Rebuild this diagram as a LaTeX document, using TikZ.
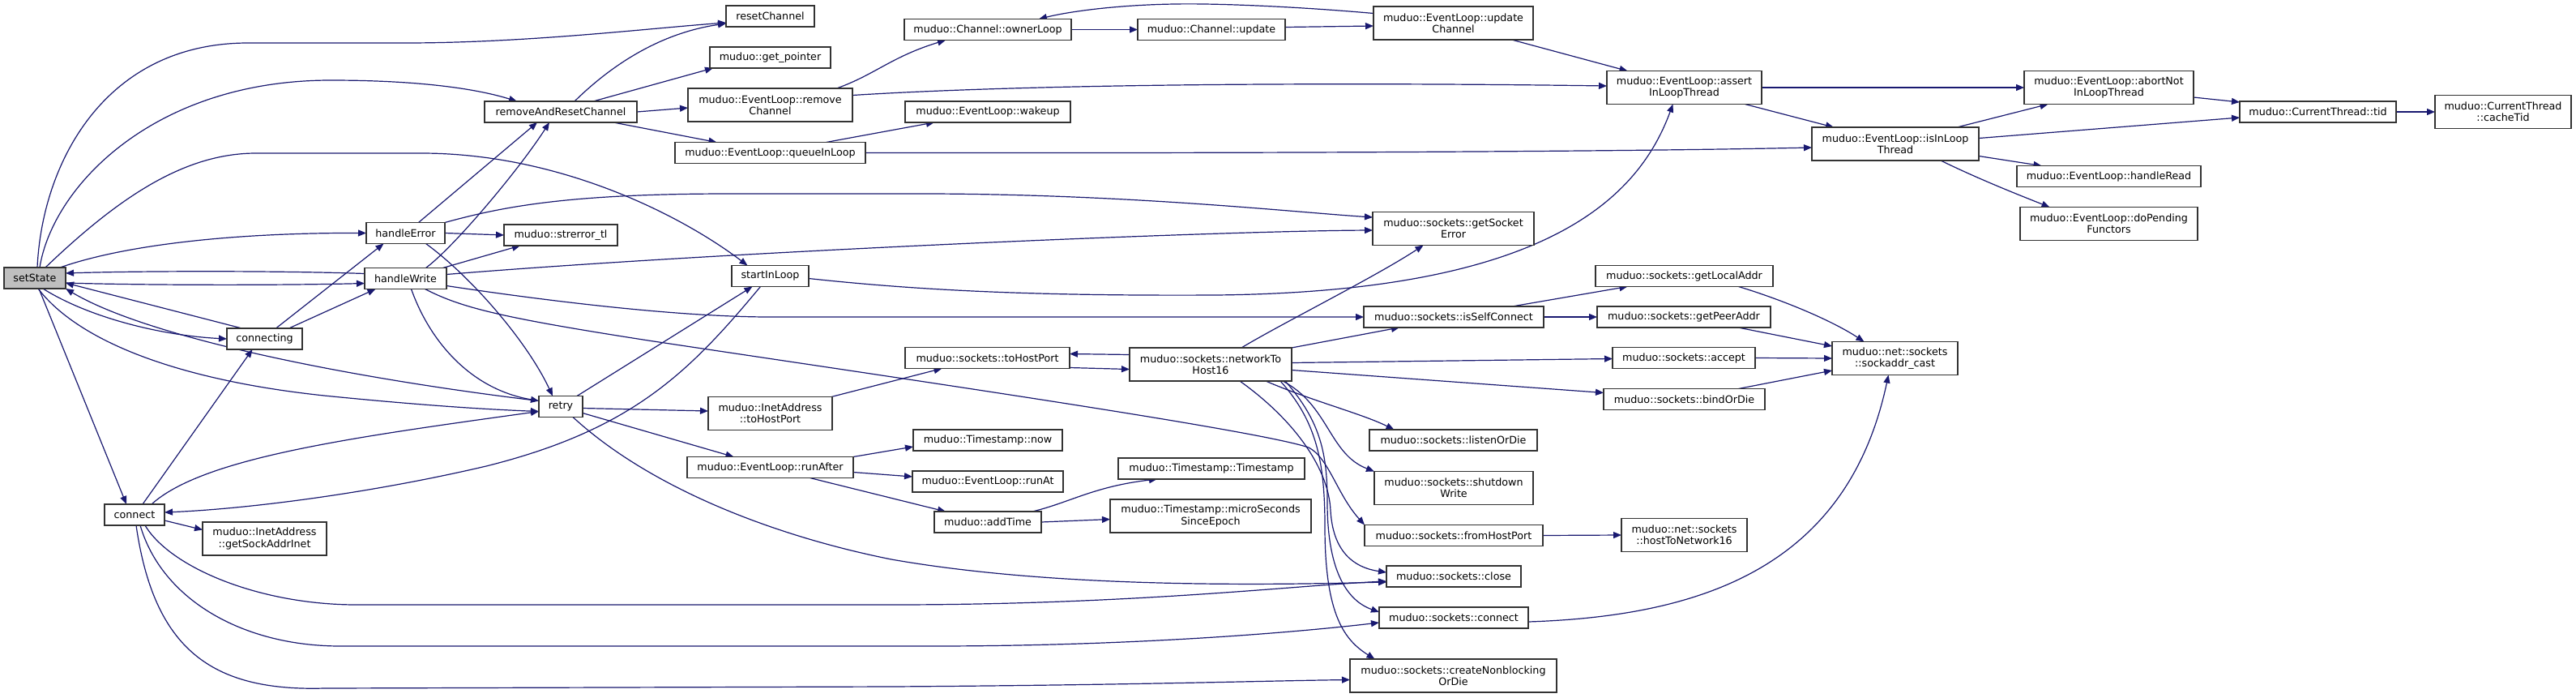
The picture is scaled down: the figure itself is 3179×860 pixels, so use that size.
\documentclass[tikz,border=0pt]{standalone}
\usepackage{fontspec}
\setmainfont{DejaVu Sans}
\usetikzlibrary{arrows.meta}
\pgfdeclarelayer{back}
\pgfdeclarelayer{bg}
\pgfsetlayers{back,bg,main}
\definecolor{edgec}{HTML}{191970}
\definecolor{rootc}{HTML}{BFBFBF}
\tikzset{
  nd/.style={draw=black!80, line width=1.3pt, fill=white, inner sep=0pt, outer sep=0pt,
             align=center, font=\fontsize{12.7}{14.3}\selectfont},
  rootnd/.style={nd, fill=rootc},
  e/.style={draw=edgec, line width=1.2pt, -{Triangle[length=10pt,width=8pt]}}
}
\newcommand\mk[7][nd]{\node[#1, minimum width=#5pt, minimum height=#6pt] (#2) at (#3,#4) {#7};}
\begin{document}
\begin{tikzpicture}[x=1pt,y=-1pt]
\begin{pgfonlayer}{back}
\fill[white] (0,0) rectangle (3179,860);
\end{pgfonlayer}
\useasboundingbox (0,0) rectangle (3179,860);
% nodes
\mk[rootnd]{setState}{43}{343}{76}{26}{setState}
\mk{rarc}{692}{138}{188}{26}{removeAndResetChannel}
\mk{hErr}{500.5}{287.5}{97}{26}{handleError}
\mk{strerr}{692}{290}{140}{26}{muduo::strerror\_tl}
\mk{hWrite}{500.5}{343.5}{101}{26}{handleWrite}
\mk{cting}{326.5}{418}{93}{26}{connecting}
\mk{retry}{692}{501.5}{54}{26}{retry}
\mk{conn}{166}{635}{74}{26}{connect}
\mk{gsai}{326.5}{664.5}{153}{41}{muduo::InetAddress\\::getSockAddrInet}
\mk{resetCh}{950.5}{20}{109}{26}{resetChannel}
\mk{getptr}{950.5}{71}{149}{26}{muduo::get\_pointer}
\mk{remCh}{950.5}{129.5}{203}{41}{muduo::EventLoop::remove\\Channel}
\mk{qil}{950.5}{188.5}{235}{26}{muduo::EventLoop::queueInLoop}
\mk{ownl}{1219}{36.5}{206}{26}{muduo::Channel::ownerLoop}
\mk{chupd}{1495}{36.5}{182}{26}{muduo::Channel::update}
\mk{wake}{1219}{138}{204}{26}{muduo::EventLoop::wakeup}
\mk{sil}{950.5}{340.5}{95}{26}{startInLoop}
\mk{sthp}{1218.5}{441.5}{203}{26}{muduo::sockets::toHostPort}
\mk{nth}{1494}{449.5}{200}{41}{muduo::sockets::networkTo\\Host16}
\mk{ithp}{950.5}{510}{153}{41}{muduo::InetAddress\\::toHostPort}
\mk{rafter}{950.5}{576.5}{205}{26}{muduo::EventLoop::runAfter}
\mk{tsnow}{1219}{543}{184}{26}{muduo::Timestamp::now}
\mk{runat}{1219}{594}{186}{26}{muduo::EventLoop::runAt}
\mk{addt}{1219}{644}{132}{26}{muduo::addTime}
\mk{tsts}{1495}{578}{230}{26}{muduo::Timestamp::Timestamp}
\mk{usec}{1494}{636.5}{248}{41}{muduo::Timestamp::microSeconds\\SinceEpoch}
\mk{updCh}{1793.5}{28.5}{197}{41}{muduo::EventLoop::update\\Channel}
\mk{ailt}{2078.5}{108}{191}{41}{muduo::EventLoop::assert\\InLoopThread}
\mk{iilt}{2339}{177.5}{206}{41}{muduo::EventLoop::isInLoop\\Thread}
\mk{gse}{1793.5}{282}{199}{41}{muduo::sockets::getSocket\\Error}
\mk{gla}{2078.5}{340.5}{219}{26}{muduo::sockets::getLocalAddr}
\mk{isc}{1794}{391}{222}{26}{muduo::sockets::isSelfConnect}
\mk{gpa}{2078}{391}{214}{26}{muduo::sockets::getPeerAddr}
\mk{sacast}{2338.5}{442}{155}{41}{muduo::net::sockets\\::sockaddr\_cast}
\mk{accept}{2078}{441.5}{176}{26}{muduo::sockets::accept}
\mk{bind}{2078.5}{492.5}{199}{26}{muduo::sockets::bindOrDie}
\mk{listen}{1793.5}{543}{207}{26}{muduo::sockets::listenOrDie}
\mk{shutw}{1794}{602}{196}{41}{muduo::sockets::shutdown\\Write}
\mk{fhp}{1794}{660.5}{220}{26}{muduo::sockets::fromHostPort}
\mk{htn}{2078.5}{660}{155}{41}{muduo::net::sockets\\::hostToNetwork16}
\mk{close}{1794}{711}{166}{26}{muduo::sockets::close}
\mk{sconn}{1794}{762}{184}{26}{muduo::sockets::connect}
\mk{cnb}{1793.5}{833.5}{255}{41}{muduo::sockets::createNonblocking\\OrDie}
\mk{anilt}{2602.5}{108}{209}{41}{muduo::EventLoop::abortNot\\InLoopThread}
\mk{tid}{2860.5}{138}{193}{26}{muduo::CurrentThread::tid}
\mk{ctid}{3089}{138}{168}{41}{muduo::CurrentThread\\::cacheTid}
\mk{hread}{2602.5}{217.5}{227}{26}{muduo::EventLoop::handleRead}
\mk{dpf}{2602.5}{276}{219}{41}{muduo::EventLoop::doPending\\Functors}
% edges
\begin{pgfonlayer}{bg}
\draw[e] ([xshift=3pt]setState.north) .. controls (52,200) and (130,53) .. (306,53) -- (500,53) .. controls (650,53) and (800,35) .. ([yshift=-8pt]resetCh.west);
\draw[e] ([xshift=6pt]setState.north) .. controls (65,230) and (190,99) .. (408,99) .. controls (520,99) and (590,110) .. ([xshift=-54pt]rarc.north);
\draw[e] ([xshift=13pt]setState.north) .. controls (150,240) and (230,189) .. (316,189) -- (520,189) .. controls (690,189) and (840,265) .. ([xshift=-28pt]sil.north);
\draw[e] ([xshift=31pt]setState.north) .. controls (160,300) and (300,287) .. (hErr.west);
\draw[e] ([yshift=6pt]hWrite.west) .. controls (350,334) and (180,334) .. ([yshift=6pt]setState.east);
\draw[e] ([yshift=-6pt]setState.east) .. controls (180,352) and (350,352) .. ([yshift=-6pt]hWrite.west);
\draw[e] ([xshift=-28pt]cting.north) -- ([yshift=-6pt]setState.east);
\draw[e] ([xshift=10pt]setState.south) .. controls (110,392) and (200,414) .. (cting.west);
\draw[e] ([yshift=7pt]retry.west) .. controls (420,465) and (180,415) .. (setState.south east);
\draw[e] ([xshift=4pt]setState.south) .. controls (100,425) and (230,470) .. (400,488) .. controls (520,500) and (600,505) .. ([yshift=-6pt]retry.west);
\draw[e] ([xshift=5pt]setState.south) -- ([xshift=-10pt]conn.north);
\draw[e] ([xshift=10pt]conn.north) -- ([xshift=-15pt]cting.south);
\draw[e] ([xshift=21pt]conn.north) .. controls (250,565) and (430,540) .. ([yshift=-6pt]retry.west);
\draw[e] ([yshift=-7pt]conn.east) -- ([yshift=11pt]gsai.west);
\draw[e] ([xshift=13pt]conn.south) .. controls (210,700) and (320,746) .. (440,746) -- (1100,746) .. controls (1400,746) and (1600,722) .. ([yshift=-6pt]close.west);
\draw[e] ([xshift=7pt]conn.south) .. controls (200,740) and (300,797) .. (420,797) -- (1150,797) .. controls (1400,797) and (1600,780) .. ([yshift=-6pt]sconn.west);
\draw[e] ([xshift=2pt]conn.south) .. controls (190,800) and (260,853) .. (400,849) -- (1100,847) .. controls (1400,845) and (1550,840) .. ([yshift=-5pt]cnb.west);
\draw[e] ([xshift=14pt]cting.north) -- ([xshift=-27pt]hErr.south);
\draw[e] ([xshift=30pt]cting.north) -- ([xshift=-37pt]hWrite.south);
\draw[e] ([xshift=-12pt]sil.south) .. controls (850,460) and (780,530) .. (600,575) .. controls (450,610) and (300,628) .. ([yshift=3pt]conn.east);
\draw[e] ([xshift=20pt]retry.north) -- ([xshift=-22pt]sil.south);
\draw[e] ([xshift=16pt]hErr.north) -- ([xshift=-29pt]rarc.south);
\draw[e] ([xshift=25pt]hWrite.north) .. controls (560,305) and (640,210) .. ([xshift=-14pt]rarc.south);
\draw[e] (hErr.east) -- (strerr.west);
\draw[e] ([xshift=46pt]hWrite.north) -- ([xshift=-50pt]strerr.south);
\draw[e] ([xshift=25pt]hErr.south) .. controls (580,340) and (650,420) .. ([xshift=-10pt]retry.north);
\draw[e] ([xshift=7pt]hWrite.south) .. controls (530,420) and (580,480) .. ([yshift=7pt]retry.west);
\draw[e] ([yshift=5pt]hWrite.east) .. controls (900,310) and (1500,285) .. ([yshift=-2pt]gse.west);
\draw[e] (hErr.north east) .. controls (620,255) and (700,239) .. (900,239) -- (1150,239) .. controls (1400,240) and (1600,262) .. ([yshift=14pt]gse.west);
\draw[e] ([yshift=-9pt]hWrite.east) .. controls (700,375) and (850,391) .. (950,391) -- (isc.west);
\draw[e] ([xshift=24pt]hWrite.south) .. controls (570,380) and (620,392) .. (800,420) .. controls (1100,465) and (1550,530) .. (1615,552) .. controls (1640,565) and (1650,610) .. (fhp.north west);
\draw[e] ([xshift=15pt]retry.south) .. controls (800,600) and (950,660) .. (1100,690) .. controls (1300,725) and (1550,722) .. ([yshift=-7pt]close.west);
\draw[e] ([yshift=-2pt]retry.east) -- ([yshift=3pt]ithp.west);
\draw[e] ([yshift=-8pt]retry.east) -- ([xshift=-45pt]rafter.north);
\draw[e] ([xshift=17pt]rarc.north) .. controls (760,75) and (820,40) .. ([yshift=-9pt]resetCh.west);
\draw[e] ([xshift=40pt]rarc.north) -- ([xshift=4pt]getptr.south west);
\draw[e] (rarc.east) -- ([yshift=-3.5pt]remCh.west);
\draw[e] ([xshift=65pt]rarc.south) -- ([xshift=-66pt]qil.north);
\draw[e] ([xshift=82pt]remCh.north) .. controls (1080,92) and (1100,70) .. ([xshift=-52pt]ownl.south);
\draw[e] (ownl.east) -- (chupd.west);
\draw[e] ([yshift=3pt]chupd.east) -- ([yshift=-3.5pt]updCh.west);
\draw[e] ([yshift=12pt]updCh.west) .. controls (1600,8) and (1500,4) .. (1450,5) .. controls (1380,6) and (1320,14) .. ([xshift=63pt]ownl.north);
\draw[e] ([xshift=72pt]updCh.south) -- ([xshift=-70pt]ailt.north);
\draw[e] ([yshift=12pt]remCh.east) .. controls (1300,102) and (1700,102) .. ([yshift=2pt]ailt.west);
\draw[e] ([xshift=69pt]qil.north) -- ([xshift=-66pt]wake.south);
\draw[e] (qil.east) .. controls (1600,189) and (2000,187) .. ([yshift=-4.5pt]iilt.west);
\draw[e] ([yshift=-3pt]sil.east) .. controls (1150,360) and (1300,365) .. (1500,364) .. controls (1900,360) and (2020,250) .. ([xshift=-14pt]ailt.south);
\draw[e] (ailt.east) -- (anilt.west);
\draw[e] ([xshift=75pt]ailt.south) -- ([xshift=-76pt]iilt.north);
\draw[e] ([xshift=76pt]iilt.north) -- ([xshift=-75pt]anilt.south);
\draw[e] ([yshift=7pt]iilt.east) -- ([yshift=-7pt]tid.west);
\draw[e] ([yshift=-12pt]anilt.east) -- ([yshift=12pt]tid.west);
\draw[e] (tid.east) -- (ctid.west);
\draw[e] ([yshift=-15pt]iilt.east) -- ([xshift=-83pt]hread.north);
\draw[e] ([xshift=56pt]iilt.south) .. controls (2440,220) and (2490,240) .. ([xshift=-73pt]dpf.north);
\draw[e] ([xshift=-1pt]ithp.north east) -- ([xshift=-56pt]sthp.south);
\draw[e] ([yshift=12pt]nth.west) -- ([yshift=5pt]sthp.east);
\draw[e] ([yshift=-12pt]sthp.east) -- ([yshift=-6pt]nth.west);
\draw[e] ([xshift=38pt]nth.north) .. controls (1580,400) and (1700,340) .. ([xshift=-37pt]gse.south);
\draw[e] (nth.north east) -- ([xshift=-67pt]isc.south);
\draw[e] ([yshift=2pt]nth.east) -- ([yshift=-1pt]accept.west);
\draw[e] ([yshift=-7pt]nth.east) -- ([yshift=8pt]bind.west);
\draw[e] ([xshift=68pt]nth.south) .. controls (1620,495) and (1680,510) .. ([xshift=-73pt]listen.north);
\draw[e] ([xshift=89pt]nth.south) .. controls (1640,500) and (1640,560) .. (shutw.north west);
\draw[e] ([xshift=36pt]nth.south) .. controls (1600,520) and (1640,580) .. (1642,630) .. controls (1645,680) and (1670,700) .. ([yshift=5pt]close.west);
\draw[e] ([xshift=92pt]nth.south) .. controls (1630,520) and (1638,560) .. (1638,620) .. controls (1638,700) and (1660,740) .. ([yshift=7pt]sconn.west);
\draw[e] ([xshift=86pt]nth.south) .. controls (1625,520) and (1635,570) .. (1635,650) .. controls (1635,760) and (1660,790) .. ([xshift=-97pt]cnb.north);
\draw[e] ([yshift=-5pt]sconn.east) .. controls (2100,760) and (2280,700) .. ([xshift=-8pt]sacast.south);
\draw[e] (fhp.east) -- (htn.west);
\draw[e] ([xshift=67pt]gla.south) .. controls (2200,370) and (2260,395) .. ([xshift=-38pt]sacast.north);
\draw[e] ([xshift=67pt]gpa.south) -- ([yshift=15pt]sacast.west);
\draw[e] (accept.east) -- (sacast.west);
\draw[e] ([xshift=67pt]bind.north) -- ([yshift=-15pt]sacast.west);
\draw[e] ([xshift=72pt]isc.north) -- ([xshift=-70pt]gla.south);
\draw[e] (isc.east) -- (gpa.west);
\draw[e] (rafter.north east) -- ([yshift=-8pt]tsnow.west);
\draw[e] ([yshift=-6pt]rafter.east) -- ([yshift=6pt]runat.west);
\draw[e] ([xshift=49pt]rafter.south) -- ([xshift=-52pt]addt.north);
\draw[e] ([xshift=55pt]addt.north) .. controls (1320,620) and (1350,600) .. ([xshift=-67pt]tsts.south);
\draw[e] (addt.east) -- ([yshift=-4pt]usec.west);
\end{pgfonlayer}
\end{tikzpicture}
\end{document}
